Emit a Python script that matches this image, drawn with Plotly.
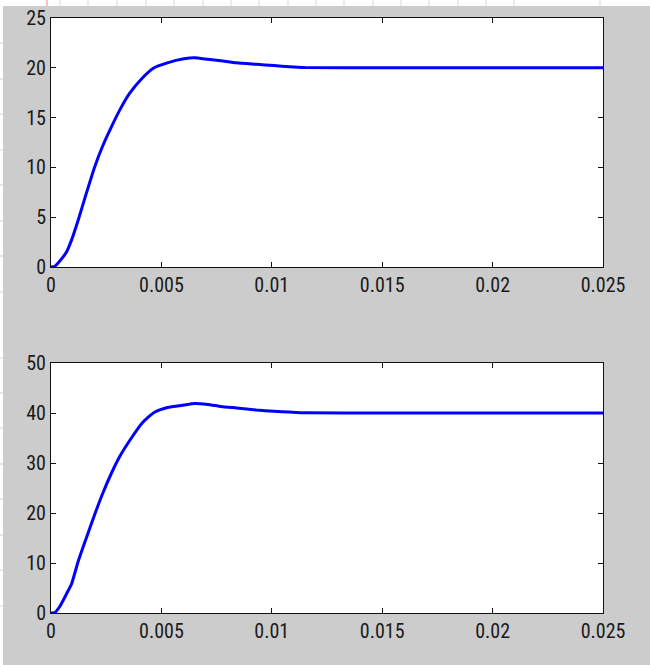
import plotly.graph_objects as go

# time axis (s)
t = [0, 0.00017, 0.0004, 0.0007, 0.00093, 0.00123, 0.0016, 0.00197, 0.00235, 0.00272,
     0.0031, 0.00355, 0.00415, 0.00467, 0.00527, 0.00602, 0.0065, 0.0071, 0.0077,
     0.0084, 0.0093, 0.0101, 0.0108, 0.0115, 0.015, 0.02, 0.025]
# upper response
y_top = [0, 0.07, 0.6, 1.5, 2.7, 4.7, 7.4, 10.0, 12.2, 14.0,
         15.7, 17.4, 19.0, 20.0, 20.5, 20.9, 21.0, 20.85, 20.7,
         20.5, 20.35, 20.22, 20.1, 20.02, 20, 20, 20]
# lower response
y_bot = [0, 0.1, 1.3, 3.8, 5.8, 10.3, 15.0, 19.6, 24.0, 27.8,
         31.2, 34.4, 38.1, 40.1, 41.1, 41.6, 41.9, 41.7, 41.3,
         41.0, 40.6, 40.35, 40.2, 40.05, 40, 40, 40]

x_ticks = [0, 0.005, 0.01, 0.015, 0.02, 0.025]
x_labels = ["0", "0.005", "0.01", "0.015", "0.02", "0.025"]
y_top_ticks = [0, 5, 10, 15, 20, 25]
y_bot_ticks = [0, 10, 20, 30, 40, 50]

W, H = 650, 665
fig = go.Figure()
for y, xa, ya in [(y_top, "x", "y"), (y_bot, "x2", "y2")]:
    fig.add_trace(go.Scatter(x=t, y=y, mode="lines", xaxis=xa, yaxis=ya,
                             line=dict(color="#0000ff", width=3, shape="spline", smoothing=0.5),
                             showlegend=False, hoverinfo="skip"))

font = dict(family="Roboto Condensed, DejaVu Sans Condensed, sans-serif",
            size=20, color="#1a1a1a")
common = dict(showgrid=False, zeroline=False, showline=True, linecolor="#111111",
              linewidth=1, mirror="ticks", ticks="inside", ticklen=5,
              tickcolor="#111111", tickfont=font, automargin=False)

xd = [51 / W, 603 / W]
fig.update_layout(
    width=W, height=H, margin=dict(l=0, r=0, t=0, b=0, autoexpand=False),
    paper_bgcolor="#cccccc", plot_bgcolor="white",
    xaxis=dict(domain=xd, range=[0, 0.025], tickvals=x_ticks, ticktext=x_labels,
               anchor="y", **common),
    yaxis=dict(domain=[1 - 267 / H, 1 - 18 / H], range=[0, 25], tickvals=y_top_ticks,
               anchor="x", **common),
    xaxis2=dict(domain=xd, range=[0, 0.025], tickvals=x_ticks, ticktext=x_labels,
                anchor="y2", **common),
    yaxis2=dict(domain=[1 - 613 / H, 1 - 363 / H], range=[0, 50], tickvals=y_bot_ticks,
                anchor="x2", **common),
)

# white strips of the background screenshot
shapes = [
    dict(type="rect", xref="paper", yref="paper", x0=0, x1=1, y0=1 - 6 / H, y1=1,
         fillcolor="white", line=dict(width=0), layer="below"),
    dict(type="rect", xref="paper", yref="paper", x0=0, x1=3 / W, y0=0, y1=1,
         fillcolor="white", line=dict(width=0), layer="below"),
]
for px in [60, 88, 117, 146, 174, 203, 231, 259, 288, 316, 344, 373, 401, 429, 458, 486, 514, 600]:
    shapes.append(dict(type="line", xref="paper", yref="paper", x0=px / W, x1=px / W,
                       y0=1 - 6 / H, y1=1, line=dict(color="#d8d8d8", width=1)))
shapes.append(dict(type="line", xref="paper", yref="paper", x0=47 / W, x1=47 / W,
                   y0=1 - 6 / H, y1=1, line=dict(color="#ff8080", width=1)))
for py in [43, 79, 114, 150, 185, 221, 256, 292, 358, 393, 428, 464, 499, 535, 570, 606]:
    shapes.append(dict(type="line", xref="paper", yref="paper", x0=0, x1=3 / W,
                       y0=1 - py / H, y1=1 - py / H, line=dict(color="#d0d0d0", width=1)))
fig.update_layout(shapes=shapes)

ps = "document.documentElement.style.margin='0';document.body.style.margin='0';"
fig.write_html("out.html", post_script=ps, config={"displayModeBar": False})
